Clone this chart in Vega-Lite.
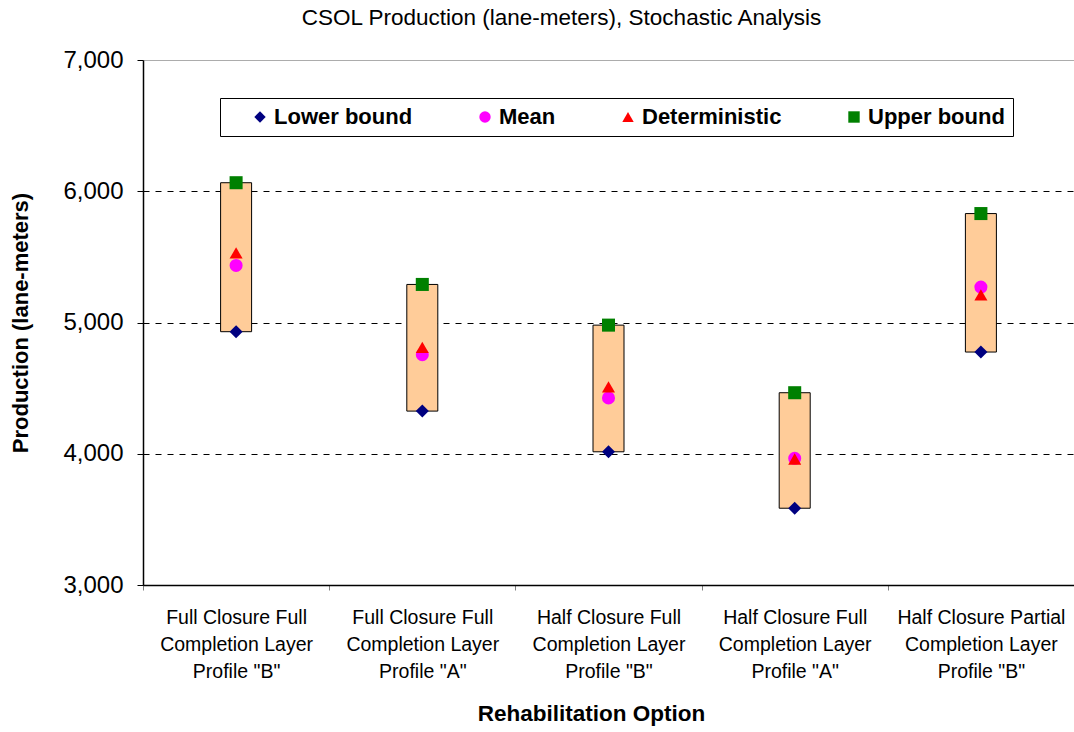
{
  "$schema": "https://vega.github.io/schema/vega-lite/v6.json",
  "width": 931,
  "height": 525,
  "autosize": {"type": "none"},
  "padding": {"left": 143, "top": 60, "right": 0, "bottom": 147},
  "background": "white",
  "title": {"text": "CSOL Production (lane-meters), Stochastic Analysis", "font": "Liberation Sans", "fontSize": 22.5, "fontWeight": "normal", "color": "black", "offset": 19, "dx": -47},
  "config": {"view": {"stroke": null}, "font": "Liberation Sans"},
  "data": {"values": [
    {"option": "Full Closure Full|Completion Layer|Profile \"B\"", "series": "Lower bound", "value": 4930},
    {"option": "Full Closure Full|Completion Layer|Profile \"B\"", "series": "Mean", "value": 5435},
    {"option": "Full Closure Full|Completion Layer|Profile \"B\"", "series": "Deterministic", "value": 5530},
    {"option": "Full Closure Full|Completion Layer|Profile \"B\"", "series": "Upper bound", "value": 6065},
    {"option": "Full Closure Full|Completion Layer|Profile \"A\"", "series": "Lower bound", "value": 4325},
    {"option": "Full Closure Full|Completion Layer|Profile \"A\"", "series": "Mean", "value": 4755},
    {"option": "Full Closure Full|Completion Layer|Profile \"A\"", "series": "Deterministic", "value": 4810},
    {"option": "Full Closure Full|Completion Layer|Profile \"A\"", "series": "Upper bound", "value": 5290},
    {"option": "Half Closure Full|Completion Layer|Profile \"B\"", "series": "Lower bound", "value": 4015},
    {"option": "Half Closure Full|Completion Layer|Profile \"B\"", "series": "Mean", "value": 4425},
    {"option": "Half Closure Full|Completion Layer|Profile \"B\"", "series": "Deterministic", "value": 4510},
    {"option": "Half Closure Full|Completion Layer|Profile \"B\"", "series": "Upper bound", "value": 4980},
    {"option": "Half Closure Full|Completion Layer|Profile \"A\"", "series": "Lower bound", "value": 3585},
    {"option": "Half Closure Full|Completion Layer|Profile \"A\"", "series": "Mean", "value": 3965},
    {"option": "Half Closure Full|Completion Layer|Profile \"A\"", "series": "Deterministic", "value": 3960},
    {"option": "Half Closure Full|Completion Layer|Profile \"A\"", "series": "Upper bound", "value": 4465},
    {"option": "Half Closure Partial|Completion Layer|Profile \"B\"", "series": "Lower bound", "value": 4775},
    {"option": "Half Closure Partial|Completion Layer|Profile \"B\"", "series": "Mean", "value": 5270},
    {"option": "Half Closure Partial|Completion Layer|Profile \"B\"", "series": "Deterministic", "value": 5210},
    {"option": "Half Closure Partial|Completion Layer|Profile \"B\"", "series": "Upper bound", "value": 5830}
  ]},
  "encoding": {
    "x": {
      "field": "option", "type": "nominal",
      "sort": ["Full Closure Full|Completion Layer|Profile \"B\"", "Full Closure Full|Completion Layer|Profile \"A\"", "Half Closure Full|Completion Layer|Profile \"B\"", "Half Closure Full|Completion Layer|Profile \"A\"", "Half Closure Partial|Completion Layer|Profile \"B\""],
      "scale": {"paddingInner": 0, "paddingOuter": 0},
      "axis": {
        "title": "Rehabilitation Option", "titleFont": "Liberation Sans", "titleFontSize": 22.5, "titleFontWeight": "bold", "titleColor": "black", "titlePadding": 22, "titleX": 448, "titleAlign": "center",
        "labelExpr": "split(datum.label, '|')", "labelFont": "Liberation Sans", "labelFontSize": 19.5, "labelLineHeight": 27, "labelColor": "black", "labelAngle": 0, "labelLimit": 400, "labelPadding": 18,
        "tickBand": "extent", "tickSize": 5, "tickColor": "#808080", "domainColor": "black", "domainWidth": 1.5
      }
    }
  },
  "layer": [
    {
      "transform": [{"pivot": "series", "value": "value", "groupby": ["option"]}],
      "mark": {"type": "bar", "width": 31, "fill": "#FFCC99", "stroke": "black", "strokeWidth": 1},
      "encoding": {
        "y": {
          "field": "Lower bound", "type": "quantitative",
          "scale": {"domain": [3000, 7000], "nice": false, "zero": false},
          "axis": {
            "title": "Production (lane-meters)", "titleFont": "Liberation Sans", "titleFontSize": 22, "titleFontWeight": "bold", "titleColor": "black", "titlePadding": 30,
            "values": [3000, 4000, 5000, 6000, 7000], "format": ",d",
            "labelFont": "Liberation Sans", "labelFontSize": 24, "labelColor": "black", "labelPadding": 14,
            "tickSize": 6, "tickColor": "black", "domainColor": "black", "domainWidth": 1.5,
            "grid": true, "gridColor": {"condition": {"test": "datum.value == 7000", "value": "#909090"}, "value": "black"},
            "gridDash": {"condition": {"test": "datum.value == 7000", "value": [1, 0]}, "value": [6, 6]}
          }
        },
        "y2": {"field": "Upper bound"}
      }
    },
    {
      "mark": {"type": "point", "filled": true, "size": 170, "opacity": 1},
      "encoding": {
        "y": {"field": "value", "type": "quantitative", "title": "Production (lane-meters)"},
        "color": {
          "field": "series", "type": "nominal",
          "scale": {"domain": ["Lower bound", "Mean", "Deterministic", "Upper bound"], "range": ["#000080", "#FF00FF", "#FF0000", "#008000"]},
          "legend": {
            "title": null, "orient": "none", "legendX": 77, "legendY": 38, "direction": "horizontal",
            "strokeColor": "black", "fillColor": "white", "padding": 8,
            "labelFont": "Liberation Sans", "labelFontSize": 22, "labelFontWeight": "bold", "labelColor": "black",
            "labelExpr": "datum.label == 'Upper bound' ? datum.label + '\u00a0\u00a0\u00a0' : datum.label",
            "symbolSize": 130, "symbolOffset": 21, "labelOffset": 3, "columnPadding": 40, "symbolStrokeWidth": 0
          }
        },
        "shape": {
          "field": "series", "type": "nominal",
          "scale": {"domain": ["Lower bound", "Mean", "Deterministic", "Upper bound"], "range": ["diamond", "circle", "triangle-up", "square"]},
          "legend": {
            "title": null, "orient": "none", "legendX": 77, "legendY": 38, "direction": "horizontal",
            "strokeColor": "black", "fillColor": "white", "padding": 8,
            "labelFont": "Liberation Sans", "labelFontSize": 22, "labelFontWeight": "bold", "labelColor": "black",
            "labelExpr": "datum.label == 'Upper bound' ? datum.label + '\u00a0\u00a0\u00a0' : datum.label",
            "symbolSize": 130, "symbolOffset": 21, "labelOffset": 3, "columnPadding": 40, "symbolStrokeWidth": 0
          }
        }
      }
    }
  ]
}
